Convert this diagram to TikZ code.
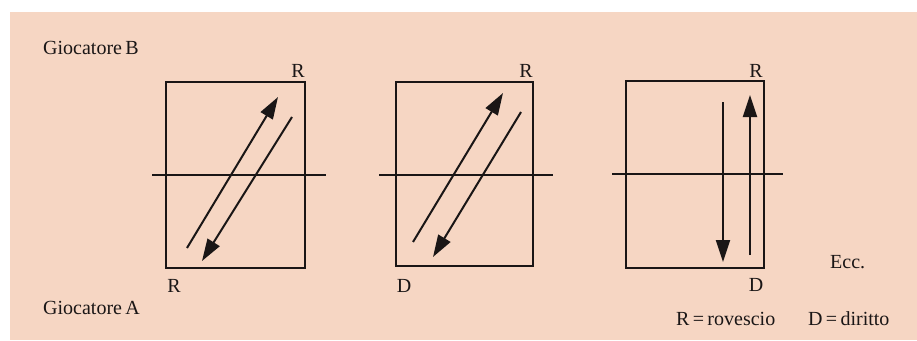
\documentclass[tikz,border=0pt]{standalone}
\usepackage{fontspec}
\setmainfont{Liberation Serif}
\usetikzlibrary{arrows.meta}
\definecolor{paperc}{HTML}{F6D6C3}
\definecolor{inkc}{HTML}{1A1616}
\tikzset{
  ln/.style={line width=2.2pt,inkc},
  ar/.style={-{Triangle[length=22pt,width=14pt]},line width=2pt,inkc},
  lb/.style={anchor=base,inner sep=0pt,font=\fontsize{20}{22}\selectfont,text=inkc}
}

\begin{document}
\begin{tikzpicture}[x=1pt,y=-1pt]
\useasboundingbox (0,0) rectangle (917,340);
\fill[white] (0,0) rectangle (917,340);
\fill[paperc] (10,12) rectangle (917,340);
% first court
\draw[ln] (166,82) rectangle (305,268);
\draw[ln] (152,175) -- (326,175);
\draw[ar] (187,248) -- (278,97);
\draw[ar] (292,117) -- (202,261);
\node[lb] (ra1) at (298,77) {R};
\node[lb] (ra2) at (174,292) {R};
% second court
\draw[ln] (396,82) rectangle (533,266);
\draw[ln] (379,175) -- (553,175);
\draw[ar] (413,242) -- (503,93);
\draw[ar] (521,112) -- (433,257);
\node[lb] (rb1) at (526,77) {R};
\node[lb] (db2) at (404,292) {D};
% third court
\draw[ln] (626,81) rectangle (764,268);
\draw[ln] (612,174) -- (783,174);
\draw[ar] (723,102) -- (723,262);
\draw[ar] (750,255) -- (750,95);
\node[lb] (rc1) at (756,77) {R};
\node[lb] (dc2) at (756,291) {D};
% players and legend
\node[lb,anchor=base west] (gb) at (43,54) {Giocatore\,B};
\node[lb,anchor=base west] (ga) at (43,314) {Giocatore\,A};
\node[lb,anchor=base west] (ecc) at (830,268) {Ecc.};
\node[lb,anchor=base west] (lr) at (676,325) {R\,=\,rovescio};
\node[lb,anchor=base west] (ld) at (808,325) {D\,=\,diritto};
\end{tikzpicture}
\end{document}
